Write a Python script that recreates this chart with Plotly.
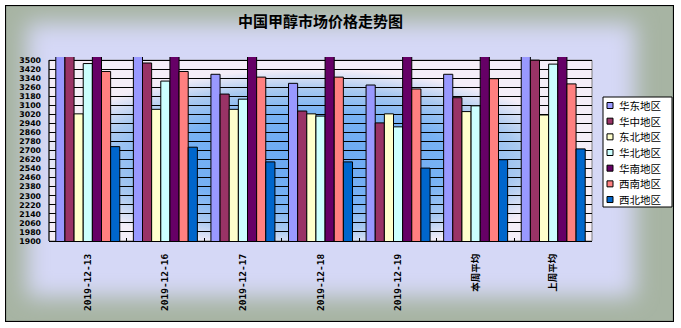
import base64
import plotly.graph_objects as go

categories = ["2019-12-13", "2019-12-16", "2019-12-17", "2019-12-18", "2019-12-19", "本周平均", "上周平均"]
series_names = ["华东地区", "华中地区", "东北地区", "华北地区", "华南地区", "西南地区", "西北地区"]
east = [3550, 3550, 3375, 3295, 3280, 3375, 3560]
central = [3560, 3475, 3200, 3050, 2945, 3168, 3500]
northeast = [3025, 3065, 3065, 3025, 3025, 3045, 3015]
north = [3470, 3315, 3155, 3005, 2910, 3096, 3465]
south = [3650, 3650, 3600, 3600, 3600, 3613, 3680]
southwest = [3400, 3400, 3350, 3350, 3245, 3336, 3290]
northwest = [2735, 2730, 2600, 2600, 2545, 2619, 2715]
y_ticks = list(range(1900, 3501, 80))

series_values = [east, central, northeast, north, south, southwest, northwest]
colors = ["#9999FF", "#993366", "#FFFFCC", "#CCFFFF", "#660066", "#FF8080", "#0066CC"]

W, H = 681, 328
L, R, T, B = 49, 89, 57, 87
PW, PH = W - L - R, H - T - B


def px_x(px):
    return (px - L) / PW


def px_y(py):
    return 1 - (py - T) / PH


def svg_uri(svg):
    return "data:image/svg+xml;base64," + base64.b64encode(svg.encode("utf-8")).decode("ascii")


chart_svg = (
    "<svg xmlns='http://www.w3.org/2000/svg' width='669' height='317' viewBox='0 0 669 317'>"
    "<defs><filter id='b' x='-20%' y='-20%' width='140%' height='140%'>"
    "<feGaussianBlur stdDeviation='11'/></filter></defs>"
    "<rect width='669' height='317' fill='#a7b4a3'/>"
    "<rect x='22' y='18' width='608' height='274' fill='#d5d8f6' filter='url(#b)'/>"
    "<rect x='0.5' y='0.5' width='668' height='316' fill='none' stroke='#000' stroke-width='1.2'/>"
    "</svg>"
)

plot_svg = (
    "<svg xmlns='http://www.w3.org/2000/svg' width='543' height='181' viewBox='0 0 543 181' preserveAspectRatio='none'>"
    "<defs><radialGradient id='g' cx='0.48' cy='0.55' r='0.5'>"
    "<stop offset='0' stop-color='#6aa8f2'/>"
    "<stop offset='0.52' stop-color='#78b2f4'/>"
    "<stop offset='0.78' stop-color='#a9c9f0'/>"
    "<stop offset='1' stop-color='#f5eef8'/>"
    "</radialGradient></defs>"
    "<rect width='543' height='181' fill='#f5eef8'/>"
    "<rect width='543' height='181' fill='url(#g)'/>"
    "</svg>"
)

fig = go.Figure()
for name, vals, col in zip(series_names, series_values, colors):
    fig.add_trace(go.Bar(
        x=categories, y=vals, name=name,
        marker=dict(color=col, line=dict(color="#000000", width=1)),
        showlegend=False,
    ))

# legend drawn as a boxed key built from the series names and colours
legend_top, legend_bottom = 97, 207
legend_left, legend_right = 603, 672
shapes = [
    dict(type="rect", xref="paper", yref="y", x0=0, x1=1, y0=1900, y1=3500,
         line=dict(color="#808080", width=1), fillcolor="rgba(0,0,0,0)", layer="between"),
    dict(type="line", xref="paper", yref="y", x0=0, x1=0, y0=1900, y1=3500,
         line=dict(color="#000000", width=1), layer="above"),
    dict(type="rect", xref="paper", yref="paper",
         x0=px_x(legend_left), x1=px_x(legend_right), y0=px_y(legend_bottom), y1=px_y(legend_top),
         line=dict(color="#000000", width=1), fillcolor="#ffffff", layer="above"),
]
annotations = []
for i, (name, col) in enumerate(zip(series_names, colors)):
    cy = 105.5 + i * 15.67
    shapes.append(dict(
        type="rect", xref="paper", yref="paper",
        x0=px_x(607), x1=px_x(613), y0=px_y(cy + 3), y1=px_y(cy - 3),
        line=dict(color="#000000", width=1), fillcolor=col, layer="above",
    ))
    annotations.append(dict(
        text=name, xref="paper", yref="paper", x=px_x(617), y=px_y(cy),
        xanchor="left", yanchor="middle", showarrow=False,
        font=dict(family="Noto Sans CJK SC", size=10.5, color="#000000"),
    ))

fig.update_layout(
    width=W, height=H,
    margin=dict(l=L, r=R, t=T, b=B),
    paper_bgcolor="#ffffff",
    plot_bgcolor="rgba(0,0,0,0)",
    barmode="group",
    bargap=0.175,
    bargroupgap=0,
    showlegend=False,
    title=dict(
        text="中国甲醇市场价格走势图",
        font=dict(family="Noto Sans CJK SC", size=15, color="#000000", weight="bold"),
        x=0.5, xref="paper", xanchor="center",
        y=1 - 22 / H, yref="container", yanchor="middle",
    ),
    xaxis=dict(
        type="category",
        showline=True, linecolor="#000000", linewidth=1,
        ticks="inside", tickson="boundaries", ticklen=3, tickcolor="#000000",
        tickangle=-90,
        tickfont=dict(family="DejaVu Sans Mono, Noto Sans CJK SC", size=9.5, color="#000000", weight="bold"),
        ticklabelstandoff=8,
        showgrid=False,
    ),
    yaxis=dict(
        range=[1900, 3528],
        tickvals=y_ticks,
        showline=False,
        showgrid=True, gridcolor="#000000", gridwidth=1,
        zeroline=False,
        ticks="",
        tickfont=dict(family="DejaVu Sans", size=7.8, color="#000000", weight="bold"),
        ticklabelstandoff=7,
    ),
    images=[
        dict(source=svg_uri(chart_svg), xref="paper", yref="paper",
             x=px_x(5), y=px_y(5), sizex=669 / PW, sizey=317 / PH,
             sizing="stretch", xanchor="left", yanchor="top", layer="below"),
        dict(source=svg_uri(plot_svg), xref="paper", yref="y",
             x=0, y=3500, sizex=1, sizey=1600,
             sizing="stretch", xanchor="left", yanchor="top", layer="below"),
    ],
    shapes=shapes,
    annotations=annotations,
)

fig.write_html("out.html")
